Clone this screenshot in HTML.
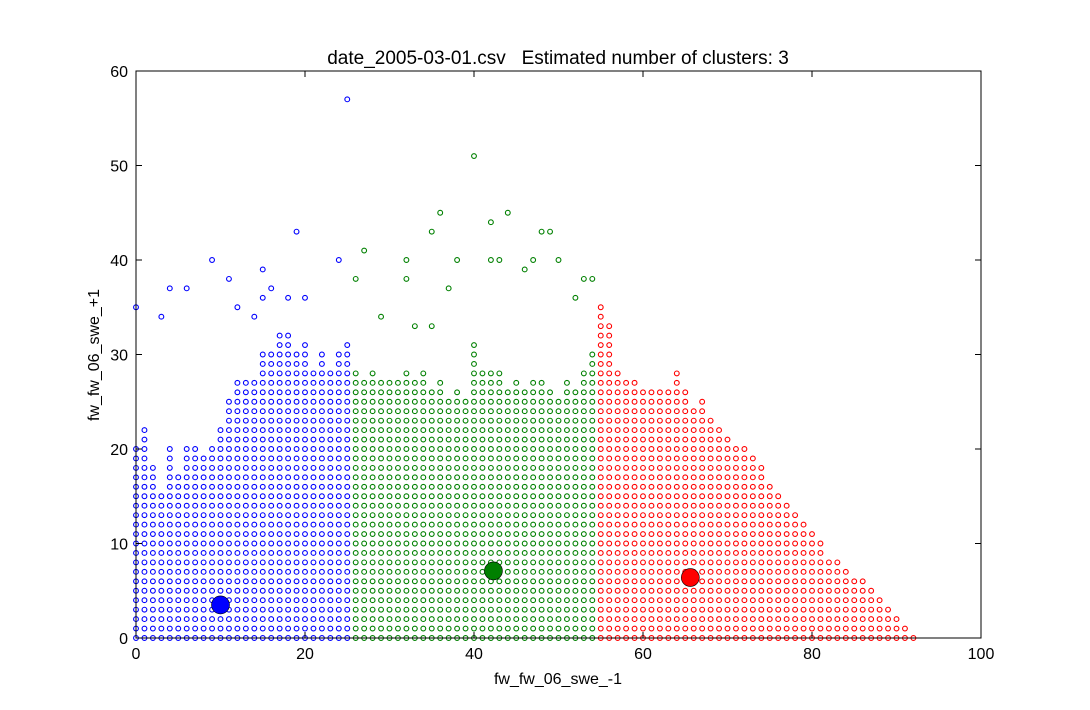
<!DOCTYPE html>
<html><head><meta charset="utf-8"><style>
body{margin:0;background:#fff;}
svg{display:block;font-family:"Liberation Sans",sans-serif;}
</style></head><body>
<svg id="chart" width="1090" height="710">
<rect width="1090" height="710" fill="#fff"/>
<text x="558" y="64" font-size="19" text-anchor="middle" style="white-space:pre">date_2005-03-01.csv   Estimated number of clusters: 3</text>
<text x="558" y="684" font-size="16" text-anchor="middle">fw_fw_06_swe_-1</text>
<text x="99" y="355" font-size="16" text-anchor="middle" transform="rotate(-90 99 355)">fw_fw_06_swe_+1</text>
<g id="marks"></g>
<g id="axes"></g>
</svg>
<script>
const xTicks=[0,20,40,60,80,100];
const yTicks=[0,10,20,30,40,50,60];
// dense top per integer column x = 0..92
const columnTops=[20,22,18,15,20,17,20,20,19,20,22,25,27,27,27,30,30,32,32,30,31,28,30,28,30,31,28,27,28,27,27,27,28,27,28,26,27,25,26,25,31,28,28,28,26,27,26,27,27,26,25,27,26,28,30,35,33,28,27,27,26,26,26,26,28,26,24,25,23,22,21,20,20,19,18,16,15,14,13,12,11,10,8,8,7,6,6,5,4,3,2,1,0];
const outlierX=[25,40,19,9,11,4,6,15,36,44,42,35,48,49,27,24,32,38,42,43,47,50,46,53,26,32,0,3,12,16,20,18,15,14,33,35,52,54,37,29];
const outlierY=[57,51,43,40,38,37,37,39,45,45,44,43,43,43,41,40,40,40,40,40,40,40,39,38,38,38,35,34,35,37,36,36,36,34,33,33,36,38,37,34];
const centerX=[10,42.3,65.6];
const centerY=[3.5,7.1,6.4];
const colors=['#0000ff','#008000','#ff0000'];

const L=136,R=981,T=71,B=638;
const sx=v=>L+(v-0)/(100-0)*(R-L);
const sy=v=>B-(v-0)/(60-0)*(B-T);
const NS='http://www.w3.org/2000/svg';
const marks=document.getElementById('marks');
const axes=document.getElementById('axes');
function cls(x){return x<=25?0:(x<=54?1:2);}
function pt(x,y){
  const c=document.createElementNS(NS,'circle');
  c.setAttribute('cx',sx(x));c.setAttribute('cy',sy(y));c.setAttribute('r',2.4);
  c.setAttribute('fill','#fff');c.setAttribute('stroke',colors[cls(x)]);c.setAttribute('stroke-width',1.1);
  
  
  marks.appendChild(c);
}
columnTops.forEach((top,x)=>{for(let y=0;y<=top;y++)pt(x,y);});
outlierX.forEach((x,i)=>pt(x,outlierY[i]));
centerX.forEach((x,i)=>{
  const c=document.createElementNS(NS,'circle');
  c.setAttribute('cx',sx(x));c.setAttribute('cy',sy(centerY[i]));c.setAttribute('r',9);
  c.setAttribute('fill',colors[i]);c.setAttribute('stroke','#000');c.setAttribute('stroke-width',0.6);
  
  
  marks.appendChild(c);
});
const fr=document.createElementNS(NS,'rect');
fr.setAttribute('x',L);fr.setAttribute('y',T);fr.setAttribute('width',R-L);fr.setAttribute('height',B-T);
fr.setAttribute('fill','none');fr.setAttribute('stroke','#000');fr.setAttribute('stroke-width',1);


axes.appendChild(fr);
function line(x1,y1,x2,y2){const l=document.createElementNS(NS,'line');l.setAttribute('x1',x1);l.setAttribute('y1',y1);l.setAttribute('x2',x2);l.setAttribute('y2',y2);l.setAttribute('stroke','#000');


axes.appendChild(l);}
function txt(x,y,s,a){const t=document.createElementNS(NS,'text');t.setAttribute('x',x);t.setAttribute('y',y);t.setAttribute('font-size',16);t.setAttribute('text-anchor',a);t.textContent=s;


axes.appendChild(t);}
xTicks.forEach(v=>{const x=sx(v);line(x,B,x,B-6);line(x,T,x,T+6);txt(x,B+21,String(v),'middle');});
yTicks.forEach(v=>{const y=sy(v);line(L,y,L+6,y);line(R,y,R-6,y);txt(L-8,y+6,String(v),'end');});
</script>
</body></html>
